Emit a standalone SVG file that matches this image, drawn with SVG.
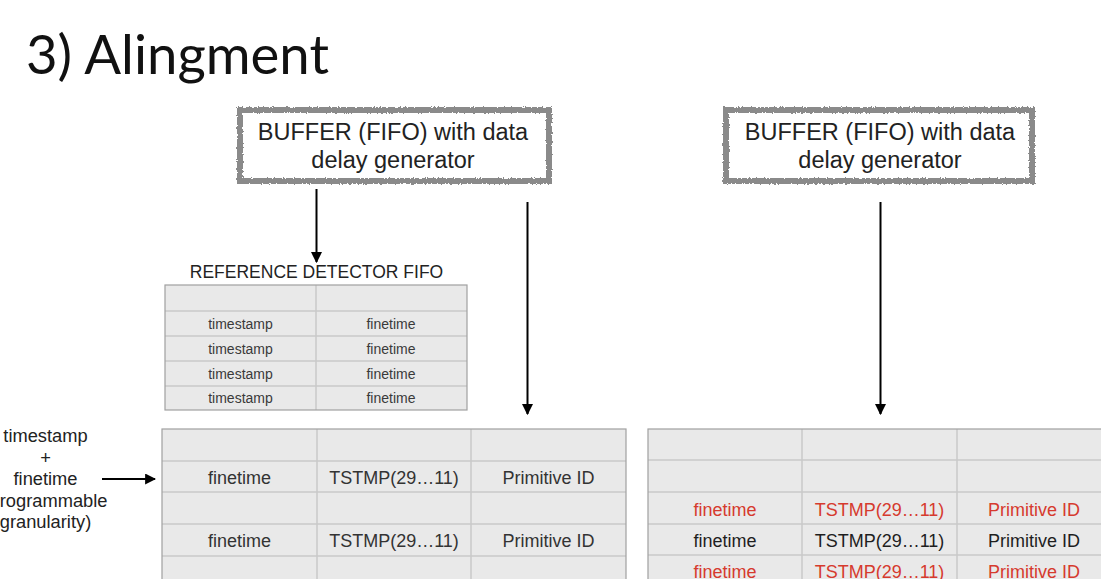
<svg xmlns="http://www.w3.org/2000/svg" width="1101" height="579" viewBox="0 0 1101 579">
  <style>
    .sans { font-family: "Liberation Sans", Arial, sans-serif; }
    .title { font-family: Lato, "Open Sans", sans-serif; font-size: 54.5px; fill: #111; }
    .buf-text { font-size: 23.5px; fill: #222; text-anchor: middle; }
    .buf-frame { fill: none; stroke: #8a8a8a; stroke-width: 6; }
    .buf-bg { fill: #fff; }
    .cap { font-size: 17.5px; fill: #222; text-anchor: middle; }
    .cell { fill: #e9e9e9; }
    .outer { fill: none; stroke: #a0a0a0; stroke-width: 1.2; }
    .grid { stroke: #c8c8c8; stroke-width: 1.5; }
    .small { font-size: 14px; fill: #3a3a3a; text-anchor: middle; }
    .big { font-size: 18px; fill: #333; text-anchor: middle; }
    .red { fill: #d63a2e; }
    .dark { fill: #1e1e1e; }
    .lbl { font-size: 18.3px; fill: #222; text-anchor: middle; }
    .wire { stroke: #000; stroke-width: 2; fill: none; marker-end: url(#head); }
  </style>
  <defs>
    <marker id="head" viewBox="0 0 10 10" refX="9" refY="5" markerWidth="5.5" markerHeight="5.5" orient="auto" markerUnits="strokeWidth">
      <path d="M0,0 L10,5 L0,10 z" fill="#000"/>
    </marker>
    <filter id="rough" x="-5%" y="-15%" width="110%" height="130%">
      <feTurbulence type="fractalNoise" baseFrequency="0.55" numOctaves="2" seed="4" result="n"/>
      <feDisplacementMap in="SourceGraphic" in2="n" scale="3.5" xChannelSelector="R" yChannelSelector="G"/>
    </filter>
  </defs>

  <rect width="1101" height="579" fill="#fff"/>

  <!-- heading -->
  <text id="title" class="title" x="26" y="74">3) Alingment</text>

  <!-- delay buffer, left branch -->
  <g id="buffer-left">
    <rect class="buf-bg" x="240" y="110" width="309" height="71"/>
    <rect class="buf-frame" x="240" y="110" width="309" height="71" filter="url(#rough)"/>
    <text class="sans buf-text" x="393" y="140">BUFFER (FIFO) with data</text>
    <text class="sans buf-text" x="393" y="168">delay generator</text>
  </g>

  <!-- delay buffer, right branch -->
  <g id="buffer-right">
    <rect class="buf-bg" x="726" y="110" width="306" height="71"/>
    <rect class="buf-frame" x="726" y="110" width="306" height="71" filter="url(#rough)"/>
    <text class="sans buf-text" x="880" y="140">BUFFER (FIFO) with data</text>
    <text class="sans buf-text" x="880" y="168">delay generator</text>
  </g>

  <!-- reference detector FIFO -->
  <g id="ref-fifo">
    <text class="sans cap" x="316.5" y="278">REFERENCE DETECTOR FIFO</text>
    <rect class="cell" x="165" y="285" width="302" height="125"/>
    <g class="grid">
      <line x1="165" y1="311" x2="467" y2="311"/>
      <line x1="165" y1="336" x2="467" y2="336"/>
      <line x1="165" y1="361" x2="467" y2="361"/>
      <line x1="165" y1="386" x2="467" y2="386"/>
      <line x1="316" y1="285" x2="316" y2="410"/>
    </g>
    <rect class="outer" x="165" y="285" width="302" height="125"/>
    <g class="sans small">
      <text x="240.5" y="328.5">timestamp</text>
      <text x="391" y="328.5">finetime</text>
      <text x="240.5" y="353.5">timestamp</text>
      <text x="391" y="353.5">finetime</text>
      <text x="240.5" y="378.5">timestamp</text>
      <text x="391" y="378.5">finetime</text>
      <text x="240.5" y="403">timestamp</text>
      <text x="391" y="403">finetime</text>
    </g>
  </g>

  <!-- input description -->
  <g id="input-label" class="sans lbl">
    <text x="45.5" y="442">timestamp</text>
    <text x="45.5" y="464">+</text>
    <text x="45.5" y="485">finetime</text>
    <text x="45.5" y="507">(programmable</text>
    <text x="45.5" y="528">granularity)</text>
  </g>

  <!-- aligned output table, left -->
  <g id="table-left">
    <rect class="cell" x="162" y="429" width="464" height="170"/>
    <g class="grid">
      <line x1="162" y1="461" x2="626" y2="461"/>
      <line x1="162" y1="492" x2="626" y2="492"/>
      <line x1="162" y1="524" x2="626" y2="524"/>
      <line x1="162" y1="556" x2="626" y2="556"/>
      <line x1="317" y1="429" x2="317" y2="599"/>
      <line x1="471" y1="429" x2="471" y2="599"/>
    </g>
    <rect class="outer" x="162" y="429" width="464" height="170"/>
    <g class="sans big">
      <text x="239.5" y="484">finetime</text>
      <text x="394" y="484">TSTMP(29…11)</text>
      <text x="548.5" y="484">Primitive ID</text>
      <text x="239.5" y="547">finetime</text>
      <text x="394" y="547">TSTMP(29…11)</text>
      <text x="548.5" y="547">Primitive ID</text>
    </g>
  </g>

  <!-- aligned output table, right -->
  <g id="table-right">
    <rect class="cell" x="648" y="429" width="480" height="170"/>
    <g class="grid">
      <line x1="648" y1="460" x2="1128" y2="460"/>
      <line x1="648" y1="492" x2="1128" y2="492"/>
      <line x1="648" y1="524" x2="1128" y2="524"/>
      <line x1="648" y1="555" x2="1128" y2="555"/>
      <line x1="802" y1="429" x2="802" y2="599"/>
      <line x1="957" y1="429" x2="957" y2="599"/>
    </g>
    <rect class="outer" x="648" y="429" width="480" height="170"/>
    <g class="sans big">
      <text class="red" x="725" y="516">finetime</text>
      <text class="red" x="879.5" y="516">TSTMP(29…11)</text>
      <text class="red" x="1034" y="516">Primitive ID</text>
      <text class="dark" x="725" y="547">finetime</text>
      <text class="dark" x="879.5" y="547">TSTMP(29…11)</text>
      <text class="dark" x="1034" y="547">Primitive ID</text>
      <text class="red" x="725" y="578">finetime</text>
      <text class="red" x="879.5" y="578">TSTMP(29…11)</text>
      <text class="red" x="1034" y="578">Primitive ID</text>
    </g>
  </g>

  <!-- connectors -->
  <g id="connectors">
    <line class="wire" x1="316.5" y1="189" x2="316.5" y2="262"/>
    <line class="wire" x1="527.5" y1="202" x2="527.5" y2="414"/>
    <line class="wire" x1="880.5" y1="202" x2="880.5" y2="414"/>
    <line class="wire" x1="102" y1="479" x2="155" y2="479"/>
  </g>
</svg>
